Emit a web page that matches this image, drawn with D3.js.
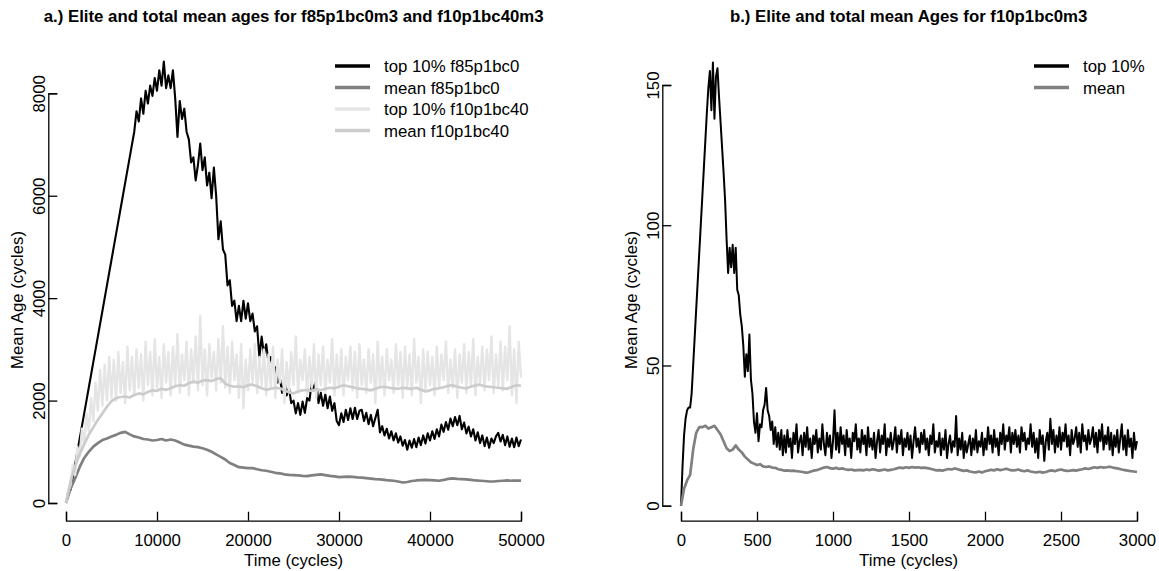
<!DOCTYPE html>
<html>
<head>
<meta charset="utf-8">
<script src="https://cdn.jsdelivr.net/npm/d3@7"></script>
<style>
    body { margin: 0; background: #fff; }
    svg text { font-family: "Liberation Sans", Arial, Helvetica, sans-serif; font-size: 16.8px; fill: #000; }
</style>
</head>
<body>
<div id="chart"></div>
<script>
/**** DATA ****/

// Panel a.) top 10% f85p1bc0, one value every 250 cycles
var eliteF85 = [
    0, 220, 260, 500, 750, 1000, 1250, 1500, 1750, 2000,
    2250, 2500, 2750, 3000, 3250, 3500, 3750, 4000, 4250, 4500,
    4750, 5000, 5250, 5500, 5750, 6000, 6250, 6500, 6750, 7000,
    7250, 7650, 7450, 7900, 7600, 8050, 7800, 8150, 7950, 8300,
    8050, 8450, 8150, 8620, 8100, 8350, 8100, 8450, 7900, 7150,
    7850, 7500, 7700, 7250, 7100, 6650, 6750, 6300, 6600, 7020,
    6500, 6750, 6200, 6450, 5950, 6550, 6000, 5150, 5500, 4950,
    4850, 4250, 4350, 3850, 3950, 3550, 3850, 3550, 3950, 3600,
    3900, 3550, 3700, 3350, 3450, 2850, 3250, 2900, 3100, 2750,
    2850, 2600, 2650, 2350, 2450, 2150, 2400, 2100, 2250, 1950,
    2000, 1750, 1950, 1720, 1980, 1760, 2050, 2000, 2350, 2200,
    2400, 1950, 2150, 1900, 2120, 1850, 2080, 1800, 1950, 1600,
    1520, 1750, 1580, 1820, 1620, 1850, 1640, 1860, 1640, 1800,
    1820, 1600, 1760, 1540, 1720, 1500, 1660, 1820, 1380, 1500,
    1320, 1450, 1260, 1400, 1220, 1360, 1180, 1300, 1120, 1230,
    1040, 1220, 1080, 1250, 1090, 1280, 1130, 1320, 1160, 1360,
    1220, 1400, 1250, 1440, 1300, 1530, 1390, 1580, 1430, 1650,
    1500, 1680, 1520, 1700, 1440, 1570, 1360, 1490, 1300, 1440,
    1220, 1380, 1170, 1320, 1110, 1280, 1080, 1260, 1170, 1300,
    1370, 1200, 1330, 1130, 1300, 1100, 1260, 1090, 1280, 1110,
    1240
];

// Panel a.) mean f85p1bc0, one value every 500 cycles
var meanF85 = [
    0, 280, 480, 700, 880, 1000, 1100, 1170, 1230, 1260,
    1300, 1330, 1370, 1390, 1340, 1300, 1280, 1250, 1240, 1220,
    1230, 1250, 1220, 1240, 1220, 1180, 1140, 1120, 1100, 1090,
    1070, 1040, 1000, 950, 900, 850, 780, 740, 700, 690,
    680, 680, 660, 640, 630, 610, 590, 580, 560, 550,
    545, 540, 530, 525, 540, 550, 560, 545, 530, 520,
    505, 510, 515, 510, 500, 495, 485, 475, 465, 460,
    450, 440, 435, 420, 400, 410, 430, 440, 445, 450,
    445, 440, 435, 450, 470, 480, 470, 465, 460, 450,
    440, 435, 430, 420, 420, 430, 435, 440, 435, 438,
    436
];

// Panel a.) top 10% f10p1bc40, one value every 250 cycles
var eliteF10 = [
    0, 250, 350, 750, 550, 1100, 900, 1450, 1150, 1750,
    1400, 2050, 1600, 2350, 1800, 2600, 1900, 2700, 2000, 2850,
    2050, 2800, 2000, 2950, 2150, 2750, 1950, 3050, 2200, 2850,
    2100, 3000, 2250, 2900, 2000, 3150, 2300, 2950, 2100, 3200,
    2250, 2850, 2050, 3100, 2350, 2950, 2100, 3050, 2300, 3300,
    2150, 2900, 2400, 3150, 2100, 3000, 2350, 3250, 2200, 3650,
    2300, 3000, 2100, 3100, 2450, 2950, 2200, 3200, 2350, 3450,
    2250, 3050, 2150, 3150, 2400, 2900, 2050, 3100, 1850, 2800,
    2200, 3000, 2350, 3100, 2150, 2850, 2300, 3000, 2100, 2900,
    2250, 3050, 2050, 2800, 2350, 3000, 1950, 2750, 2200, 2950,
    2300, 3250, 2150, 2800, 2400, 3000, 2100, 2850, 2250, 3100,
    2050, 2900, 2300, 3050, 2150, 2800, 2350, 3200, 2100, 2900,
    2250, 3000, 2100, 2850, 2400, 3050, 2200, 2950, 2050, 3100,
    2300, 2800, 2150, 3000, 2350, 2900, 1950, 3150, 2250, 2850,
    2100, 3000, 2400, 2800, 2150, 3100, 2300, 2950, 2050, 3050,
    2250, 2900, 2100, 3200, 2350, 2850, 1950, 3000, 2200, 2950,
    2300, 2850, 2100, 3050, 2250, 2900, 2400, 3150, 2150, 2800,
    2250, 3000, 2050, 2900, 2350, 3100, 2150, 2950, 2300, 3200,
    2100, 2850, 2350, 3050, 2200, 3000, 2400, 3250, 2150, 2900,
    2300, 3150, 2200, 3050, 2400, 3450, 2100, 3000, 1950, 3150,
    2450
];

// Panel a.) mean f10p1bc40, one value every 500 cycles
var meanF10 = [
    0, 420, 720, 950, 1150, 1330, 1480, 1620, 1750, 1880,
    1990, 2050, 2070, 2080, 2060, 2110, 2140, 2120, 2170, 2200,
    2190, 2230, 2210, 2240, 2280, 2300, 2290, 2340, 2370, 2350,
    2390, 2400, 2380, 2420, 2440, 2330, 2290, 2270, 2280, 2260,
    2300, 2310, 2280, 2240, 2210, 2230, 2250, 2240, 2200, 2160,
    2140, 2180, 2200, 2210, 2190, 2220, 2200, 2230, 2250, 2240,
    2270, 2300, 2280, 2260, 2240, 2230, 2220, 2200, 2230, 2260,
    2270, 2250, 2240, 2230, 2250, 2240, 2230, 2250, 2210, 2180,
    2200, 2230, 2240, 2260, 2290, 2300, 2270, 2250, 2240, 2270,
    2300, 2310, 2280, 2270, 2260, 2250, 2240, 2230, 2270, 2300,
    2290
];

// Panel b.) top 10% f10p1bc0m3, one value every 10 cycles
var eliteB = [
    0, 14, 25, 31, 34, 35, 35, 40, 50, 60,
    70, 80, 90, 100, 110, 120, 130, 140, 149, 155,
    141, 158, 138, 153, 156, 146, 137, 128, 119, 109,
    95, 83, 92, 85, 93, 83, 92, 77, 75, 68,
    64, 57, 46, 54, 48, 61, 45, 40, 30, 26,
    33, 23, 29, 28, 34, 36, 42, 34, 32, 27,
    30, 22, 28, 21, 26, 20, 27, 18, 25, 19,
    27, 21, 24, 17, 26, 22, 29, 19, 23, 25,
    18, 26, 21, 28, 20, 24, 17, 25, 22, 27,
    19, 24, 20, 29, 22, 18, 26, 21, 25, 17,
    23, 34, 20, 26, 19, 28, 22, 25, 18, 27,
    21, 24, 17, 26, 23, 29, 20, 24, 19, 27,
    22, 25, 18, 28, 21, 24, 20, 26, 17, 23,
    27, 19, 25, 22, 29, 18, 24, 21, 26, 20,
    23, 28, 19, 25, 22, 27, 18, 24, 21, 26,
    20, 25, 17, 23, 28, 21, 24, 19, 26, 22,
    27, 20, 24, 18, 25, 22, 29, 19, 23, 21,
    26, 18, 24, 20, 27, 17, 22, 25, 19, 23,
    21, 32, 18, 24, 20, 26, 17, 23, 19, 22,
    25, 18, 24, 20, 27, 19, 23, 21, 26, 18,
    24, 20, 28, 22, 25, 19, 27, 21, 24, 18,
    26, 22, 29, 20, 25, 23, 28, 19, 26, 22,
    27, 21, 25, 19, 28, 23, 26, 20, 24, 22,
    29, 21, 26, 19, 24, 17, 27, 22, 25, 16,
    23, 26, 20, 31, 22, 27, 19, 25, 21, 28,
    20, 26, 23, 29, 21, 25, 18, 27, 22, 24,
    28, 21, 26, 19, 29, 23, 25, 20, 27, 22,
    24, 28, 21, 26, 19, 27, 23, 29, 20, 25,
    22, 28, 20, 26, 18, 25, 21, 27, 19, 24,
    29, 20, 25, 18, 27, 21, 24, 17, 26, 20,
    23
];

// Panel b.) mean f10p1bc0m3, one value every 20 cycles
var meanB = [
    0, 6, 9, 11, 20, 26, 28, 28, 28.5, 27.5,
    28, 28.5, 27, 25.5, 23, 20.5, 19.5, 20, 21.5, 20,
    19, 17.5, 16.5, 15.5, 15, 14.5, 14.8, 14, 13.8, 14,
    13.6, 13.5, 13, 12.8, 12.5, 12.6, 12.4, 12.5, 12.3, 12.2,
    12, 11.8, 11.9, 12.3, 12.6, 12.8, 13.2, 13.6, 13.8, 13.4,
    13.2, 13.5, 13.1, 13.3, 13, 12.8, 12.9, 12.6, 12.7, 12.8,
    12.6, 12.9, 12.7, 13, 12.8, 12.5, 12.7, 12.9, 12.6, 12.8,
    13, 13.3, 13.6, 13.4, 13.7, 13.5, 13.8, 13.6, 13.7, 13.5,
    13.6, 13.4, 13.2, 12.9, 12.6, 12.7, 12.5, 12.8, 13.1, 12.9,
    13.3, 13, 12.7, 12.4, 12.6, 12.2, 12, 11.9, 12.2, 11.8,
    12.3, 12.5, 12.8, 12.6, 13, 12.7, 12.9, 13.2, 12.8, 12.6,
    12.7, 12.9, 12.5, 12.3, 12.6, 12.2, 12, 11.9, 12.1, 11.8,
    12, 12.4, 12.6, 12.3, 12.7, 12.9, 12.6, 12.4, 12.5, 12.7,
    12.5, 12.8, 13, 13.3, 13.1, 13.4, 13.7, 13.5, 13.8, 13.6,
    13.7, 13.9, 13.6, 13.4, 13.2, 12.9, 12.7, 12.5, 12.3, 12.2,
    12
];

// Axis ticks
var ticksAx = [0, 10000, 20000, 30000, 40000, 50000];
var ticksAy = [0, 2000, 4000, 6000, 8000];
var ticksBx = [0, 500, 1000, 1500, 2000, 2500, 3000];
var ticksBy = [0, 50, 100, 150];

// Labels
var titleA = 'a.) Elite and total mean ages for f85p1bc0m3 and f10p1bc40m3';
var titleB = 'b.) Elite and total mean Ages for f10p1bc0m3';
var legendA = ['top 10% f85p1bc0', 'mean f85p1bc0', 'top 10% f10p1bc40', 'mean f10p1bc40'];
var legendB = ['top 10%', 'mean'];


/**** CHART DRAWING ****/

var width = 1159,
    height = 571;

var svg = d3.select('#chart')
    .append('svg')
    .attr('width', width)
    .attr('height', height);

function drawPanel(cfg) {
    var g = svg.append('g');

    // Scales
    var x = d3.scaleLinear().domain(cfg.xDomain).range(cfg.xRange);
    var y = d3.scaleLinear().domain(cfg.yDomain).range(cfg.yRange);

    var line = d3.line()
        .x(function(d) { return x(d[0]); })
        .y(function(d) { return y(d[1]); });

    // Series, in drawing order (later ones cover earlier ones)
    cfg.series.forEach(function(s) {
        var pts = s.values.map(function(v, i) { return [i * s.step, v]; });
        g.append('path')
            .datum(pts)
            .attr('fill', 'none')
            .attr('stroke', s.color)
            .attr('stroke-width', s.width)
            .attr('stroke-linejoin', 'round')
            .attr('d', line);
    });

    // X-Axis on the bottom edge of the plot region, ticks pointing inward
    var xFirst = cfg.xTicks[0],
        xLast = cfg.xTicks[cfg.xTicks.length - 1];
    var xAxisScale = x.copy().domain([xFirst, xLast]).range([x(xFirst), x(xLast)]);
    var xAxis = g.append('g')
        .attr('transform', 'translate(0,' + cfg.frameBottom + ')')
        .call(d3.axisBottom(xAxisScale)
            .tickValues(cfg.xTicks)
            .tickFormat(d3.format('d'))
            .tickSizeInner(-9)
            .tickSizeOuter(-9)
            .tickPadding(13));

    // Y-Axis on the left edge, labels parallel to the axis
    var yFirst = cfg.yTicks[0],
        yLast = cfg.yTicks[cfg.yTicks.length - 1];
    var yAxisScale = y.copy().domain([yFirst, yLast]).range([y(yFirst), y(yLast)]);
    var yAxis = g.append('g')
        .attr('transform', 'translate(' + cfg.frameLeft + ',0)')
        .call(d3.axisLeft(yAxisScale)
            .tickValues(cfg.yTicks)
            .tickFormat(d3.format('d'))
            .tickSizeInner(-9)
            .tickSizeOuter(-9));
    yAxis.selectAll('.tick text')
        .attr('transform', 'rotate(-90)')
        .attr('x', 0)
        .attr('y', -3)
        .attr('dy', 0)
        .attr('text-anchor', 'middle');

    [xAxis, yAxis].forEach(function(a) {
        a.attr('font-size', null).attr('font-family', null);
        a.selectAll('path, line').attr('stroke', '#000').attr('stroke-width', 1.3);
    });

    // Titles
    var midX = (cfg.frameLeft + cfg.frameRight) / 2;
    g.append('text')
        .attr('x', midX)
        .attr('y', 22)
        .attr('text-anchor', 'middle')
        .style('font-weight', 'bold')
        .text(cfg.title);
    g.append('text')
        .attr('x', midX)
        .attr('y', 566)
        .attr('text-anchor', 'middle')
        .text('Time (cycles)');
    g.append('text')
        .attr('transform', 'translate(' + (cfg.frameLeft - 25) + ',' + cfg.yTitleMid + ') rotate(-90)')
        .attr('text-anchor', 'middle')
        .text('Mean Age (cycles)');

    // Legend
    var leg = g.selectAll('.legend')
        .data(cfg.legend)
        .enter()
        .append('g')
        .attr('class', 'legend')
        .attr('transform', function(d, i) { return 'translate(' + cfg.legendX + ',' + (66 + i * 21.5) + ')'; });
    leg.append('line')
        .attr('x1', 0)
        .attr('x2', 35)
        .attr('stroke', function(d, i) { return cfg.series[i].color; })
        .attr('stroke-width', 3.3);
    leg.append('text')
        .attr('x', 49)
        .attr('dy', '0.36em')
        .text(function(d) { return d; });
}

drawPanel({
    xDomain: [0, 50000], xRange: [66, 521],
    yDomain: [0, 8000], yRange: [503, 93.3],
    frameLeft: 48.3, frameRight: 539, frameBottom: 520.7, yTitleMid: 300,
    xTicks: ticksAx, yTicks: ticksAy,
    title: titleA, legend: legendA, legendX: 335,
    series: [
        {values: eliteF85, step: 250, color: '#000000', width: 2.1},
        {values: meanF85, step: 500, color: '#808080', width: 2.7},
        {values: eliteF10, step: 250, color: '#e5e5e5', width: 2.4},
        {values: meanF10, step: 500, color: '#cccccc', width: 2.7}
    ]
});

drawPanel({
    xDomain: [0, 3000], xRange: [681, 1137],
    yDomain: [0, 150], yRange: [505.7, 85],
    frameLeft: 662.3, frameRight: 1155, frameBottom: 520.7, yTitleMid: 300,
    xTicks: ticksBx, yTicks: ticksBy,
    title: titleB, legend: legendB, legendX: 1034,
    series: [
        {values: eliteB, step: 10, color: '#000000', width: 2},
        {values: meanB, step: 20, color: '#808080', width: 2.7}
    ]
});
</script>
</body>
</html>
